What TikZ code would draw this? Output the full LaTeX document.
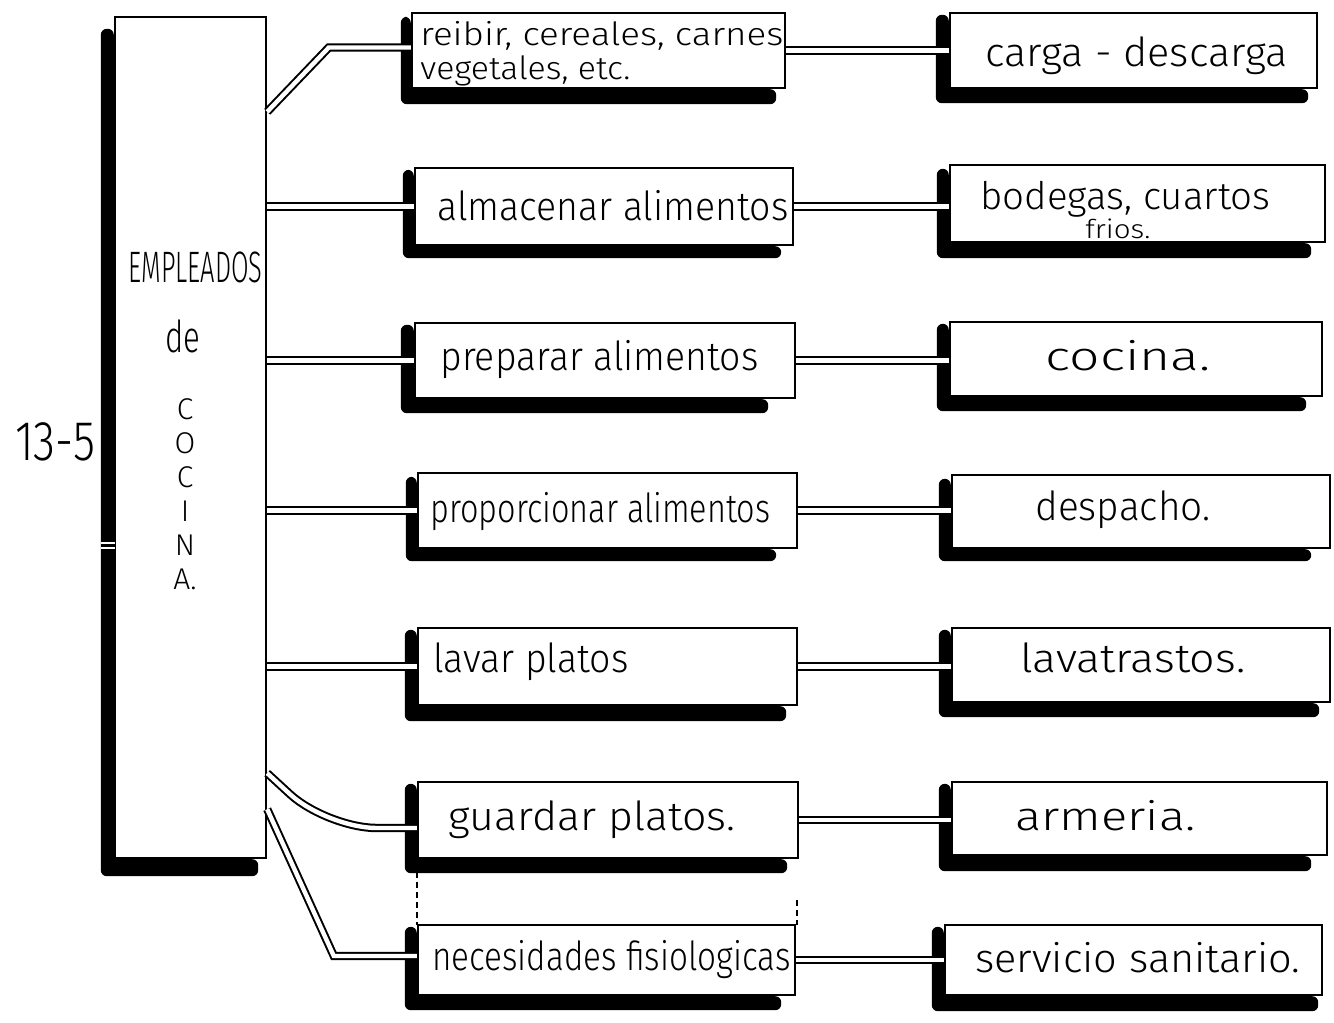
\documentclass[tikz,border=0pt]{standalone}
\usepackage{fontspec}
\setmainfont{Fira Sans}[UprightFont=* Light]
\usepackage{graphicx}
\usetikzlibrary{calc,fit}
\newcommand\hw[2]{\resizebox{#1}{\height}{#2}}
\newcommand\shadowL[5]{%
  \fill[rounded corners=3pt] ($(#1.north west)+(-#2,#3)$) -- ($(#1.north west)+(0,#3)$) -- (#1.south west)
    -- ($(#1.south east)+(-#5,0)$) -- ($(#1.south east)+(-#5,#4)$) -- ($(#1.south west)+(-#2,#4)$) -- cycle;}
\tikzset{
  boxst/.style={draw, line width=1.2pt, fill=white, inner sep=0pt},
  dbl/.style={draw, line width=1pt, double=white, double distance=2.2pt},
  lbl/.style={inner sep=0pt, anchor=base west, font=\fontsize{20}{24}\selectfont},
}
\begin{document}
\begin{tikzpicture}[x=0.5pt,y=-0.5pt]
\useasboundingbox (0,0) rectangle (1334,1023);
% main box
\node[boxst, fit={(115,17) (266,858)}] (L) {};
% middle boxes
\node[boxst, fit={(412,13) (785,88)}] (m1) {};
\node[boxst, fit={(415,168) (793,245)}] (m2) {};
\node[boxst, fit={(415,323) (795,398)}] (m3) {};
\node[boxst, fit={(418,473) (797,548)}] (m4) {};
\node[boxst, fit={(418,628) (797,705)}] (m5) {};
\node[boxst, fit={(418,782) (798,858)}] (m6) {};
\node[boxst, fit={(418,925) (795,995)}] (m7) {};
% right boxes
\node[boxst, fit={(950,13) (1317,88)}] (r1) {};
\node[boxst, fit={(950,165) (1325,242)}] (r2) {};
\node[boxst, fit={(950,322) (1322,396)}] (r3) {};
\node[boxst, fit={(952,475) (1330,548)}] (r4) {};
\node[boxst, fit={(952,628) (1330,702)}] (r5) {};
\node[boxst, fit={(952,782) (1327,855)}] (r6) {};
\node[boxst, fit={(945,925) (1322,995)}] (r7) {};
% shadows
\shadowL{L}{13}{13}{17}{9}
\draw[white, line width=0.8pt] (101,543) -- (115,543) (101,548) -- (115,548);
\shadowL{m1}{10}{5}{15}{10}
\shadowL{m2}{11}{3}{12}{13}
\shadowL{m3}{13}{3}{14}{28}
\shadowL{m4}{11}{5}{12}{22}
\shadowL{m5}{12}{3}{15}{12}
\shadowL{m6}{12}{3}{14}{12}
\shadowL{m7}{12}{3}{14}{15}
\shadowL{r1}{13}{3}{14}{10}
\shadowL{r2}{12}{5}{15}{15}
\shadowL{r3}{12}{3}{14}{17}
\shadowL{r4}{12}{5}{12}{20}
\shadowL{r5}{12}{3}{14}{12}
\shadowL{r6}{12}{3}{15}{17}
\shadowL{r7}{12}{3}{15}{5}
% faint guide lines
\draw[densely dashed, line width=0.6pt] (417,872) -- (417,925);
\draw[densely dashed, line width=0.6pt] (797,900) -- (797,925);
% connectors from main box
\draw[dbl] ($(L.north east)+(0,96)$) -- ($(m1.west)+(-82,-3)$) -- ($(m1.west)+(0,-3)$);
\foreach \i in {2,...,5} \draw[dbl] (L.east |- m\i.west) -- (m\i.west);
\draw[dbl, rounded corners=25pt] ($(L.south east)+(0,-86)$) -- ($(m6.west)+(-90,8)$) -- ($(m6.west)+(0,8)$);
\draw[dbl] ($(L.south east)+(0,-50)$) -- ($(m7.west)+(-83,-4)$) -- ($(m7.west)+(0,-4)$);
% connectors middle to right
\foreach \i in {1,...,7} \draw[dbl] (m\i.east) -- (m\i.east -| r\i.west);
% texts
\node[lbl, font=\fontsize{16}{18}\selectfont] (m1a) at (420,45) {\hw{181.5pt}{reibir, cereales, carnes}};
\node[lbl, font=\fontsize{16}{18}\selectfont] (m1b) at (420,79) {\hw{105pt}{vegetales, etc.}};
\node[lbl] (r1t) at (985,66) {\hw{151pt}{carga - descarga}};
\node[lbl] (m2t) at (437,220) {\hw{175.5pt}{almacenar alimentos}};
\node[lbl, font=\fontsize{19}{22}\selectfont] (r2a) at (980,209) {\hw{145pt}{bodegas, cuartos}};
\node[lbl, font=\fontsize{13}{15}\selectfont] (r2b) at (1085,238) {\hw{32.5pt}{frios.}};
\node[lbl] (m3t) at (440,370) {\hw{159pt}{preparar alimentos}};
\node[lbl] (r3t) at (1045,370) {\hw{82.5pt}{cocina.}};
\node[lbl] (m4t) at (430,522) {\hw{170pt}{proporcionar alimentos}};
\node[lbl] (r4t) at (1035,520) {\hw{87.5pt}{despacho.}};
\node[lbl] (m5t) at (433,672) {\hw{97.5pt}{lavar platos}};
\node[lbl] (r5t) at (1020,672) {\hw{112.5pt}{lavatrastos.}};
\node[lbl] (m6t) at (448,830) {\hw{143.5pt}{guardar platos.}};
\node[lbl] (r6t) at (1015,830) {\hw{90pt}{armeria.}};
\node[lbl] (m7t) at (432,970) {\hw{179pt}{necesidades fisiologicas}};
\node[lbl] (r7t) at (975,972) {\hw{162.5pt}{servicio sanitario.}};
\node[lbl, font=\fontsize{22}{24}\selectfont] (emp) at (128,282) {\hw{67pt}{EMPLEADOS}};
\node[lbl, font=\fontsize{22}{24}\selectfont] (de) at (165,352) {\hw{17.5pt}{de}};
\node[inner sep=0pt, anchor=north, align=center, font=\fontsize{15}{17}\selectfont] (coc) at (185,398) {C\\O\\C\\I\\N\\A.};
\node[lbl, font=\fontsize{28}{30}\selectfont] (num) at (15,460) {\hw{40pt}{13-5}};
\end{tikzpicture}
\end{document}
